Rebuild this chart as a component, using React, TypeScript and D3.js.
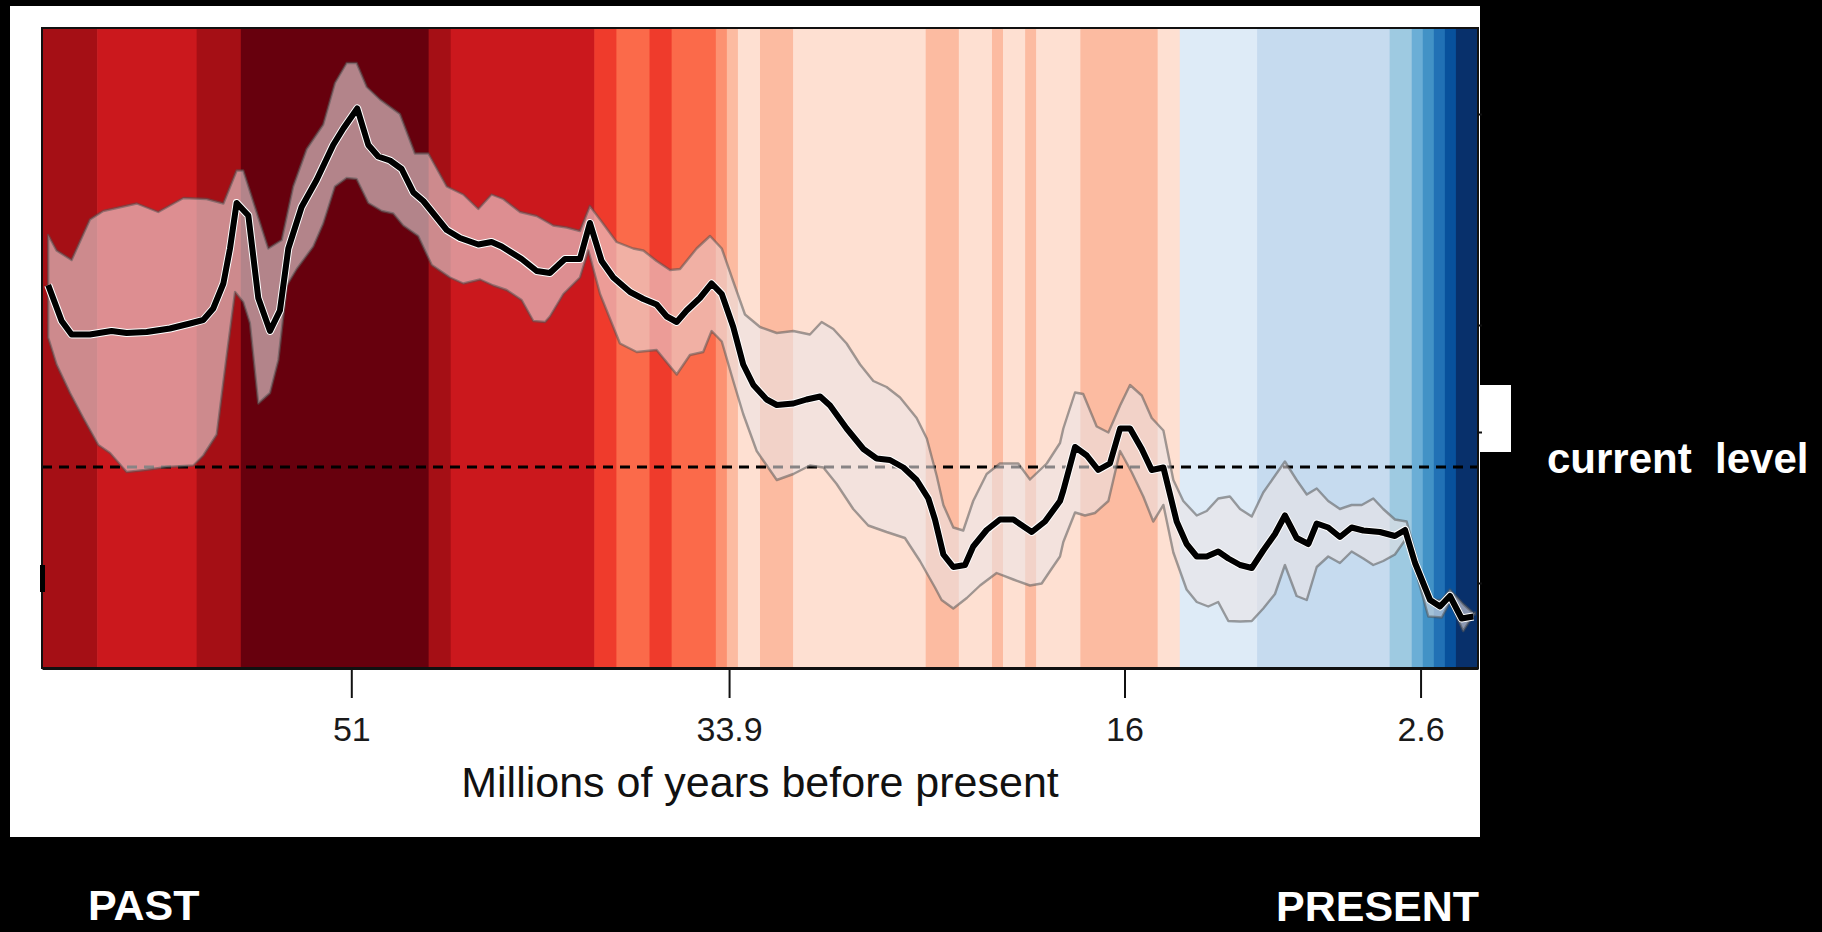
import { useEffect, useRef } from "react";
import * as d3 from "d3";

// ages in millions of years before present, values in ppm (approx.)
const tickAges = [51, 33.9, 16, 2.6];
const rightTicks = [1108, 686, 472, 170];
const currentLevel = 402;

const stripeBreaks = [
  65, 62.5, 58, 56, 47.5, 46.5, 40, 39, 37.5, 36.5, 34.5, 34, 33.5, 32.5, 31, 25,
  23.5, 22, 21.5, 20.5, 20, 18, 14.5, 13.5, 10, 4, 3, 2.5, 2, 1.5, 1, 0,
];
const stripeColors = [
  "#a50f15", "#cb181d", "#a50f15", "#67000d", "#a50f15", "#cb181d", "#ef3b2c",
  "#fb6a4a", "#ef3b2c", "#fb6a4a", "#fc9272", "#fcbba1", "#fee0d2", "#fcbba1",
  "#fee0d2", "#fcbba1", "#fee0d2", "#fcbba1", "#fee0d2", "#fcbba1", "#fee0d2",
  "#fcbba1", "#fee0d2", "#deebf7", "#c6dbef", "#9ecae1", "#6baed6", "#4292c6",
  "#2171b5", "#08519c", "#08306b",
];

const meanCurve: [number, number][] = [
  [64.72, 766], [64.11, 694], [63.66, 667], [62.83, 667], [61.85, 674], [61.17, 670],
  [60.26, 672], [59.21, 679], [58.3, 689], [57.7, 696], [57.25, 719], [56.79, 769],
  [56.49, 839], [56.19, 930], [55.66, 905], [55.21, 740], [54.68, 674], [54.23, 715],
  [53.85, 839], [53.25, 922], [52.57, 976], [51.82, 1046], [51.36, 1079], [50.73, 1119],
  [50.23, 1046], [49.78, 1023], [49.25, 1015], [48.72, 998], [48.19, 951], [47.74, 934],
  [47.21, 905], [46.68, 876], [46.08, 860], [45.25, 847], [44.65, 852], [44.19, 843],
  [43.29, 818], [42.61, 794], [42.01, 790], [41.33, 818], [40.65, 818], [40.2, 890],
  [39.67, 814], [39.14, 781], [38.38, 752], [37.78, 738], [37.18, 727], [36.72, 703],
  [36.27, 692], [35.82, 715], [35.22, 740], [34.69, 769], [34.23, 748], [33.71, 682],
  [33.26, 607], [32.8, 566], [32.2, 537], [31.74, 526], [30.99, 529], [30.39, 537],
  [29.78, 543], [29.33, 525], [28.58, 479], [27.82, 438], [27.22, 419], [26.62, 416],
  [26.01, 401], [25.41, 376], [24.88, 339], [24.58, 297], [24.2, 227], [23.75, 202],
  [23.22, 206], [22.85, 243], [22.24, 276], [21.64, 297], [21.03, 297], [20.2, 272],
  [19.6, 293], [18.92, 334], [18.77, 355], [18.24, 442], [17.71, 425], [17.19, 396],
  [16.66, 409], [16.2, 479], [15.75, 479], [15.22, 438], [14.77, 396], [14.24, 401],
  [13.94, 347], [13.64, 293], [13.19, 248], [12.73, 223], [12.28, 223], [11.76, 233],
  [11.3, 219], [10.77, 206], [10.24, 200], [9.72, 235], [9.19, 268], [8.74, 305],
  [8.21, 260], [7.68, 248], [7.3, 289], [6.78, 281], [6.25, 262], [5.72, 281],
  [5.19, 275], [4.44, 272], [3.76, 264], [3.3, 276], [2.85, 210], [2.17, 136],
  [1.72, 123], [1.27, 144], [0.74, 99], [0.21, 103],
];

const upperBound: [number, number][] = [
  [64.72, 866], [64.34, 835], [63.66, 816], [62.83, 897], [62.23, 914], [61.62, 920],
  [60.71, 929], [59.74, 912], [58.6, 940], [57.55, 938], [56.79, 929], [56.19, 995],
  [55.89, 995], [54.76, 839], [54.15, 856], [53.63, 963], [53.02, 1038], [52.27, 1087],
  [51.74, 1170], [51.21, 1210], [50.76, 1210], [50.3, 1162], [49.7, 1137], [48.8, 1108],
  [48.12, 1029], [47.51, 1029], [46.68, 963], [45.93, 947], [45.25, 918], [44.65, 947],
  [44.12, 938], [43.36, 912], [42.61, 904], [42.01, 889], [41.86, 885], [41.25, 881],
  [40.65, 874], [40.2, 924], [39.74, 897], [38.99, 852], [38.24, 839], [37.78, 835],
  [37.18, 814], [36.57, 796], [36.12, 798], [35.37, 839], [34.76, 864], [34.23, 839],
  [33.71, 773], [33.18, 707], [32.5, 682], [31.74, 670], [30.99, 674], [30.24, 667],
  [29.71, 692], [29.18, 678], [28.58, 649], [27.97, 607], [27.37, 574], [26.77, 562],
  [26.16, 541], [25.41, 500], [24.95, 459], [24.5, 384], [24.2, 326], [23.75, 281],
  [23.3, 275], [22.85, 334], [22.24, 388], [21.64, 409], [20.81, 409], [20.28, 377],
  [19.52, 409], [18.92, 450], [18.77, 479], [18.24, 551], [17.87, 548], [17.26, 483],
  [16.73, 471], [16.2, 525], [15.75, 566], [15.22, 545], [14.77, 500], [14.24, 475],
  [13.79, 376], [13.34, 334], [12.73, 305], [12.28, 314], [11.76, 339], [11.23, 343],
  [10.77, 318], [10.24, 303], [9.72, 351], [8.74, 413], [8.21, 376], [7.75, 347],
  [7.3, 359], [6.78, 334], [6.25, 318], [5.72, 326], [5.26, 326], [4.74, 339],
  [4.29, 318], [3.76, 297], [3.23, 293], [2.77, 219], [2.25, 136], [1.64, 136],
  [1.27, 157], [0.67, 128], [0.14, 107],
];

const lowerBound: [number, number][] = [
  [64.72, 661], [64.34, 607], [63.73, 550], [63.13, 500], [62.45, 446], [61.92, 430],
  [61.17, 392], [60.34, 396], [59.36, 402], [58.15, 405], [57.7, 425], [57.09, 467],
  [56.64, 624], [56.26, 752], [55.89, 732], [55.59, 690], [55.21, 529], [54.68, 550],
  [54.3, 616], [53.92, 765], [53.47, 798], [52.72, 843], [52.27, 889], [51.74, 963],
  [51.21, 980], [50.76, 978], [50.23, 930], [49.62, 914], [49.1, 909], [48.65, 885],
  [47.97, 864], [47.36, 806], [46.53, 781], [45.93, 769], [45.17, 777], [44.57, 765],
  [43.97, 756], [43.29, 736], [42.76, 694], [42.23, 692], [42.01, 703], [41.4, 748],
  [40.65, 781], [40.27, 835], [39.74, 748], [38.84, 649], [38.08, 632], [37.18, 636],
  [36.27, 587], [35.67, 626], [35.07, 632], [34.69, 674], [34.23, 653], [33.71, 574],
  [33.26, 508], [32.65, 434], [31.74, 376], [30.99, 388], [30.24, 405], [29.63, 401],
  [29.03, 368], [28.28, 318], [27.6, 285], [26.77, 272], [25.94, 260], [25.26, 214],
  [24.58, 161], [24.28, 136], [23.75, 119], [23.14, 140], [22.54, 165], [21.79, 190],
  [21.03, 177], [20.28, 165], [19.75, 169], [19.37, 194], [18.92, 223], [18.77, 252],
  [18.24, 311], [17.79, 305], [17.34, 310], [16.73, 334], [16.2, 434], [15.68, 392],
  [15.15, 343], [14.7, 293], [14.24, 326], [13.79, 231], [13.19, 157], [12.73, 132],
  [12.21, 123], [11.76, 132], [11.3, 94], [10.77, 93], [10.24, 94], [9.72, 119],
  [9.19, 148], [8.74, 206], [8.21, 144], [7.75, 136], [7.3, 202], [6.78, 223],
  [6.25, 210], [5.72, 233], [5.19, 219], [4.74, 206], [4.29, 214], [3.76, 227],
  [3.3, 256], [2.77, 186], [2.25, 103], [1.64, 101], [1.27, 132], [0.67, 74],
  [0.14, 111],
];

const W = 1822;
const H = 932;
const font = "'Liberation Sans', Arial, sans-serif";

export default function App() {
  const ref = useRef<SVGSVGElement>(null);

  useEffect(() => {
    if (!ref.current) return;
    document.body.style.margin = "0";
    document.body.style.background = "#000";

    const svg = d3.select(ref.current);
    svg.selectAll("*").remove();

    const x = d3.scaleLinear().domain([65, 0]).range([42, 1478]);
    const y = d3.scaleLinear().domain([0, 1280]).range([668, 28]);

    // background + white panel
    svg.append("rect").attr("width", W).attr("height", H).attr("fill", "#000");
    svg
      .append("rect")
      .attr("x", 10)
      .attr("y", 6)
      .attr("width", 1470)
      .attr("height", 831)
      .attr("fill", "#fff");

    // warming stripes
    svg
      .append("g")
      .selectAll("rect")
      .data(stripeColors)
      .join("rect")
      .attr("x", (_, i) => x(stripeBreaks[i]))
      .attr("width", (_, i) => x(stripeBreaks[i + 1]) - x(stripeBreaks[i]) + 0.6)
      .attr("y", y(1280))
      .attr("height", y(0) - y(1280))
      .attr("fill", (d) => d);

    // current level
    svg
      .append("line")
      .attr("x1", x(65))
      .attr("x2", x(0))
      .attr("y1", y(currentLevel))
      .attr("y2", y(currentLevel))
      .attr("stroke", "#000")
      .attr("stroke-width", 3)
      .attr("stroke-dasharray", "10 7");

    // uncertainty band
    const line = d3
      .line<[number, number]>()
      .x((d) => x(d[0]))
      .y((d) => y(d[1]));
    const band = [...upperBound, ...lowerBound.slice().reverse()];
    svg
      .append("path")
      .attr("d", line(band) + "Z")
      .attr("fill", "#eae4e6")
      .attr("fill-opacity", 0.58)
      .attr("stroke", "#555")
      .attr("stroke-opacity", 0.55)
      .attr("stroke-width", 2.4)
      .attr("stroke-linejoin", "round");

    // mean curve with white halo
    svg
      .append("path")
      .attr("d", line(meanCurve))
      .attr("fill", "none")
      .attr("stroke", "#fff")
      .attr("stroke-width", 8)
      .attr("stroke-linejoin", "round");
    svg
      .append("path")
      .attr("d", line(meanCurve))
      .attr("fill", "none")
      .attr("stroke", "#000")
      .attr("stroke-width", 6)
      .attr("stroke-linejoin", "round");

    // frame
    svg
      .append("rect")
      .attr("x", x(65))
      .attr("y", y(1280))
      .attr("width", x(0) - x(65))
      .attr("height", y(0) - y(1280))
      .attr("fill", "none")
      .attr("stroke", "#111")
      .attr("stroke-width", 2);

    // x axis
    const xAxis = svg
      .append("g")
      .attr("transform", `translate(0,${y(0)})`)
      .call(
        d3
          .axisBottom(x)
          .tickValues(tickAges)
          .tickSize(30)
          .tickSizeOuter(0)
          .tickPadding(19)
          .tickFormat((d) => String(d))
      );
    xAxis.select(".domain").attr("stroke", "#111").attr("stroke-width", 3);
    xAxis.selectAll(".tick line").attr("stroke", "#111").attr("stroke-width", 2);
    xAxis
      .selectAll(".tick text")
      .attr("fill", "#1a1a1a")
      .style("font-family", font)
      .style("font-size", "34px");

    svg
      .append("text")
      .attr("x", (x(65) + x(0)) / 2)
      .attr("y", 797)
      .attr("text-anchor", "middle")
      .attr("fill", "#111")
      .style("font-family", font)
      .style("font-size", "43px")
      .text("Millions of years before present");

    // black mask on the right, with a white notch
    svg.append("rect").attr("x", 1480).attr("y", 0).attr("width", W - 1480).attr("height", H).attr("fill", "#000");
    svg.append("rect").attr("x", 1480).attr("y", 385).attr("width", 31).attr("height", 67).attr("fill", "#fff");
    svg.append("rect").attr("x", 40).attr("y", 565).attr("width", 5).attr("height", 27).attr("fill", "#000");

    // stubs of the hidden right axis
    svg
      .append("g")
      .attr("transform", `translate(${x(0)},0)`)
      .call(d3.axisRight(y).tickValues(rightTicks).tickSize(4).tickFormat(() => ""))
      .call((g) => g.select(".domain").remove())
      .selectAll(".tick line")
      .attr("stroke", "#111")
      .attr("stroke-width", 2);

    // annotations
    svg
      .append("text")
      .attr("x", 1547)
      .attr("y", 473)
      .attr("fill", "#fff")
      .style("font-family", font)
      .style("font-weight", "bold")
      .style("font-size", "42px")
      .text("current\u00a0 level");

    svg
      .append("text")
      .attr("x", 88)
      .attr("y", 920)
      .attr("fill", "#fff")
      .style("font-family", font)
      .style("font-weight", "bold")
      .style("font-size", "43px")
      .text("PAST");

    svg
      .append("text")
      .attr("x", 1276)
      .attr("y", 921)
      .attr("fill", "#fff")
      .style("font-family", font)
      .style("font-weight", "bold")
      .style("font-size", "43px")
      .text("PRESENT");
  }, []);

  return <svg ref={ref} width={W} height={H} style={{ display: "block" }} />;
}
